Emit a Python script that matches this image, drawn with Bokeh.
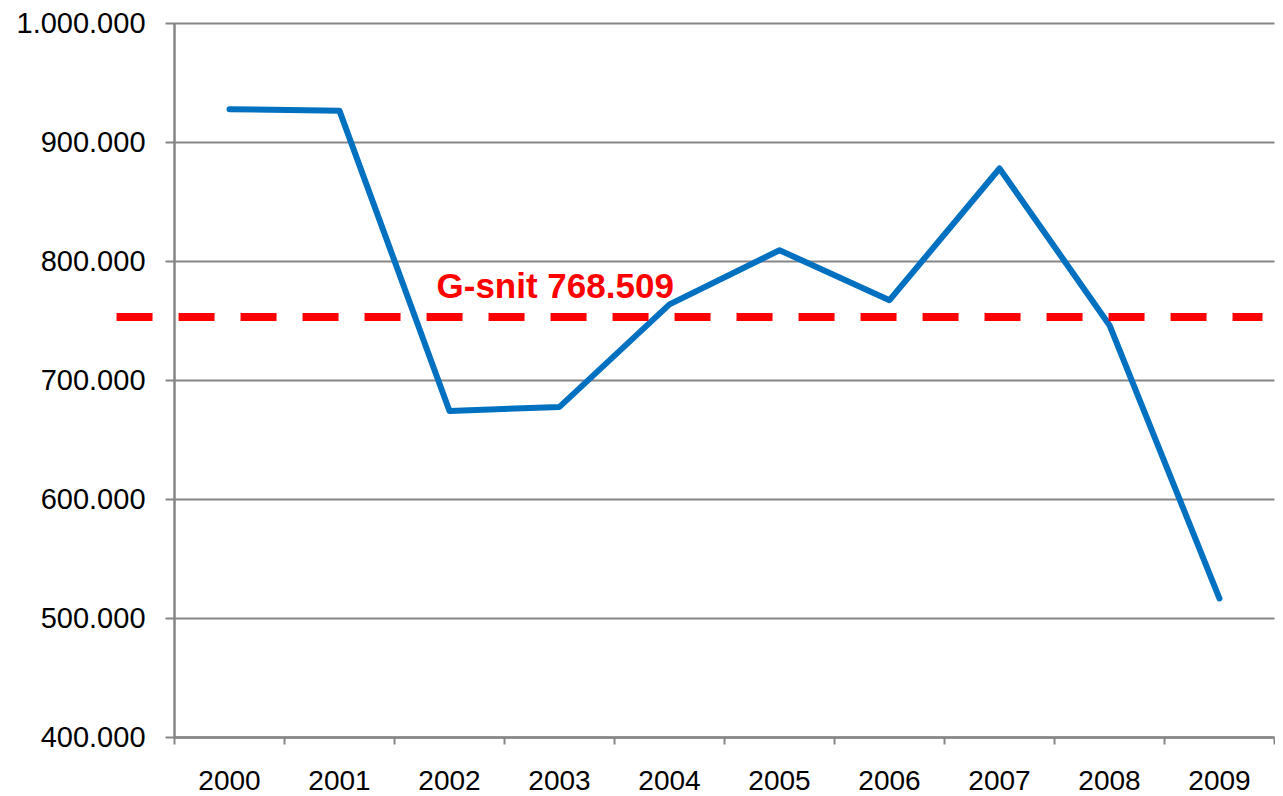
from bokeh.plotting import figure
from bokeh.models import Range1d, ColumnDataSource, Label
from bokeh.core.properties import value
from bokeh.embed import file_html
from bokeh.resources import INLINE

# ---- data ----
years = ["2000", "2001", "2002", "2003", "2004", "2005", "2006", "2007", "2008", "2009"]
values = [928000, 926600, 674400, 677800, 764000, 809500, 767500, 878150, 746500, 516800]
y_ticks = [400000, 500000, 600000, 700000, 800000, 900000, 1000000]
y_tick_labels = ["400.000", "500.000", "600.000", "700.000", "800.000", "900.000", "1.000.000"]
avg_label = "G-snit 768.509"
avg_label_value = 768509
avg_line_value = 753400

FONT = "Liberation Sans"
GRAY = "#868686"
BLUE = "#0070C0"
RED = "#FF0000"

idx = list(range(len(years)))
boundaries = [i - 0.5 for i in range(len(years) + 1)]
cat_lo = boundaries[0]
cat_hi = boundaries[-1]
y_min = y_ticks[0]
y_max = y_ticks[-1]

PX_X = 110.0            # pixels per category
PX_Y = 119.0 / 100000   # pixels per unit value

p = figure(
    frame_width=1265, frame_height=786,
    x_range=Range1d(-1.991, 9.509),
    y_range=Range1d(350420, 1010924),
    x_axis_location=None, y_axis_location=None,
    output_backend="svg", toolbar_location=None,
    min_border_left=10, min_border_top=10, min_border_right=0, min_border_bottom=0,
)
p.outline_line_color = None
p.grid.visible = False
p.background_fill_color = "white"
p.border_fill_color = "white"

# horizontal gridlines with small left ticks
tick_len_x = 9 / PX_X
p.segment(x0=[cat_lo - tick_len_x] * len(y_ticks), x1=[cat_hi] * len(y_ticks),
          y0=y_ticks, y1=y_ticks, line_color=GRAY, line_width=2)
# y axis line
p.segment(x0=[cat_lo], x1=[cat_lo], y0=[y_min], y1=[y_max],
          line_color=GRAY, line_width=2.5)
# x axis line
p.segment(x0=[cat_lo], x1=[cat_hi], y0=[y_min], y1=[y_min],
          line_color=GRAY, line_width=2.5)
# x ticks at category boundaries
tick_len_y = 7 / PX_Y
p.segment(x0=boundaries, x1=boundaries, y0=[y_min] * len(boundaries),
          y1=[y_min - tick_len_y] * len(boundaries), line_color=GRAY, line_width=2)

# y tick labels
ysrc = ColumnDataSource(dict(x=[cat_lo] * len(y_ticks), y=y_ticks, t=y_tick_labels))
p.text(x="x", y="y", text="t", source=ysrc, x_offset=-29,
       text_align="right", text_baseline="middle",
       text_font=value(FONT), text_font_size="29px", text_color="black")

# x tick labels
xsrc = ColumnDataSource(dict(x=idx, y=[y_min] * len(idx), t=years))
p.text(x="x", y="y", text="t", source=xsrc, y_offset=43,
       text_align="center", text_baseline="middle",
       text_font=value(FONT), text_font_size="28px", text_color="black")

# data line
p.line(idx, values, line_color=BLUE, line_width=6, line_join="round", line_cap="round")

# average dashed line
p.segment(x0=[cat_lo - 0.527], x1=[cat_hi - 0.109], y0=[avg_line_value], y1=[avg_line_value],
          line_color=RED, line_width=8, line_dash="36 26", line_cap="butt")

p.add_layout(Label(x=1.882, y=avg_label_value, text=avg_label, y_offset=13,
                   text_font=FONT, text_font_size="35px", text_font_style="bold",
                   text_color=RED, text_baseline="alphabetic", text_align="left"))

open("out.html", "w").write(file_html(p, INLINE))
